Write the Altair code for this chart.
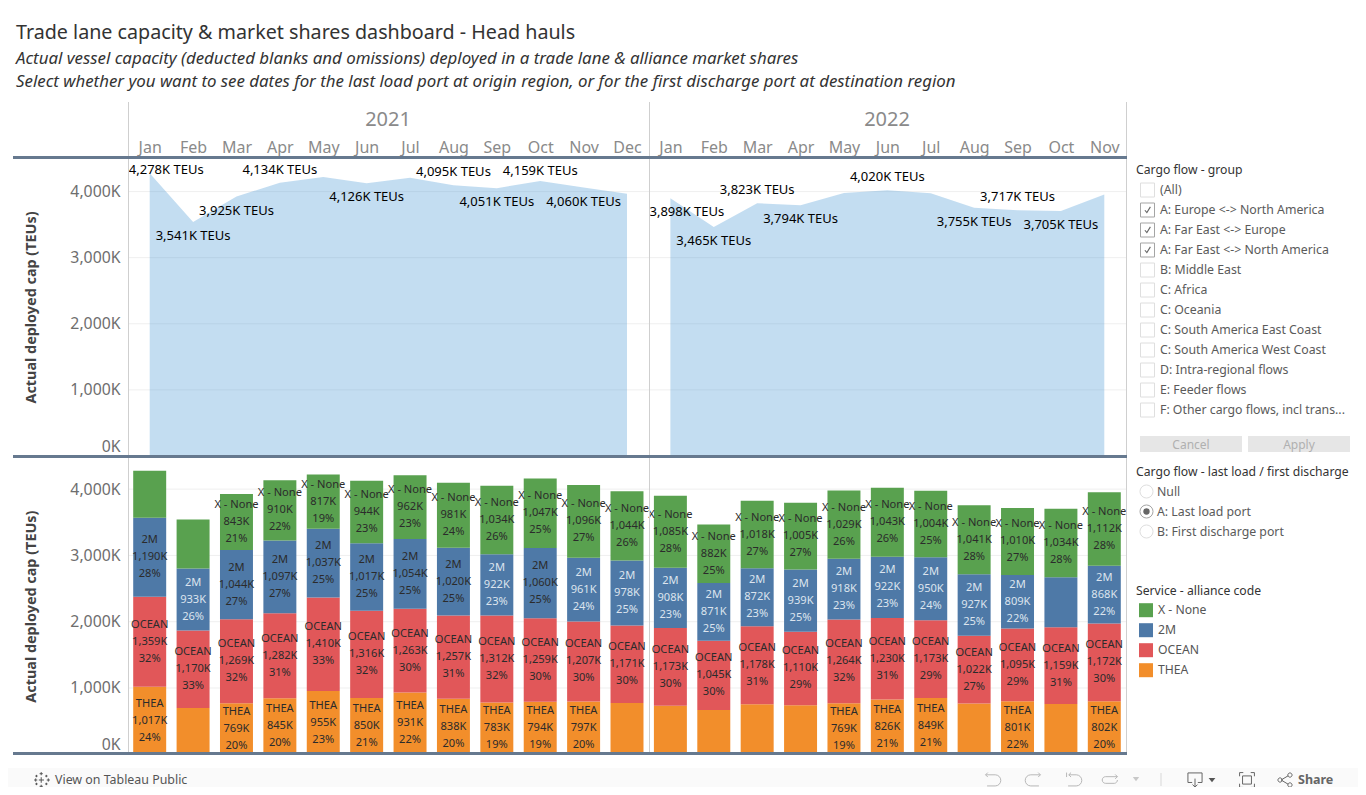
import altair as alt
import pandas as pd

# ---------- data ----------
year_labels = ["2021", "2022"]
months = ["2021-Jan","2021-Feb","2021-Mar","2021-Apr","2021-May","2021-Jun","2021-Jul","2021-Aug","2021-Sep","2021-Oct","2021-Nov","2021-Dec",
          "2022-Jan","2022-Feb","2022-Mar","2022-Apr","2022-May","2022-Jun","2022-Jul","2022-Aug","2022-Sep","2022-Oct","2022-Nov"]
totals = [4278,3541,3925,4134,4219,4126,4210,4095,4051,4159,4060,3966,
          3898,3465,3823,3794,3980,4020,3976,3755,3717,3705,3954]
thea   = [1017,698,769,845,955,850,931,838,783,794,797,773, 732,667,755,740,769,826,849,765,801,759,802]
ocean  = [1359,1170,1269,1282,1410,1316,1263,1257,1312,1259,1207,1171, 1173,1045,1178,1110,1264,1230,1173,1022,1095,1159,1172]
twom   = [1190,933,1044,1097,1037,1017,1054,1020,922,1060,961,978, 908,871,872,939,918,922,950,927,809,753,868]
xnone  = [712,740,843,910,817,944,962,981,1034,1047,1096,1044, 1085,882,1018,1005,1029,1043,1004,1041,1010,1034,1112]
p_thea  = [24,None,20,20,23,21,22,20,19,19,20,None, None,None,None,None,19,21,21,None,22,None,20]
p_ocean = [32,33,32,31,33,32,30,31,32,30,30,30, 30,30,31,29,32,31,29,27,29,31,30]
p_twom  = [28,26,27,27,25,25,25,25,23,25,24,25, 23,25,23,25,23,23,24,25,22,None,22]
p_xnone = [None,None,21,22,19,23,23,24,26,25,27,26, 28,25,27,27,26,26,25,28,27,28,28]

above_months = ["2021-Apr","2021-Aug","2022-Mar","2022-Jun","2022-Sep"]
above_near = ["2021-Oct"]
below_months = ["2021-Feb","2021-Mar","2021-Jun","2021-Sep","2021-Nov","2022-Feb","2022-Apr","2022-Aug","2022-Oct"]
edge_high = ["2021-Jan"]
edge_low = ["2022-Jan"]

series_order = ["X - None", "2M", "OCEAN", "THEA"]
series_colors = ["#59A14F", "#4E79A7", "#E15759", "#F28E2B"]

filter_items = ["(All)","A: Europe <-> North America","A: Far East <-> Europe","A: Far East <-> North America",
                "B: Middle East","C: Africa","C: Oceania","C: South America East Coast","C: South America West Coast",
                "D: Intra-regional flows","E: Feeder flows","F: Other cargo flows, incl trans..."]
filter_on = filter_items[1:4]
radio_items = ["Null","A: Last load port","B: First discharge port"]
radio_on = ["A: Last load port"]
y_ticks = [0,1000,2000,3000,4000]

# ---------- styling ----------
O = 8
FONT = "Noto Sans"
X_RANGE = [128-O, 1126-O]
ONE = alt.Data(values=[{"a":1}])

def txt(s, x, y, size=12, color="#555555", italic=False, align="left", font=FONT, weight="normal"):
    return alt.Chart(ONE).mark_text(text=s, font=font, fontSize=size, color=color, align=align, baseline="middle",
                                    fontStyle="italic" if italic else "normal", fontWeight=weight).encode(
        x=alt.value(x-O), y=alt.value(y-O))

def hrule(x1, x2, y, color, w=1):
    return alt.Chart(ONE).mark_rule(color=color, strokeWidth=w).encode(x=alt.value(x1-O), x2=alt.value(x2-O), y=alt.value(y-O))

def vrule(x, y1, y2, color="#CFCFCF", w=1):
    return alt.Chart(ONE).mark_rule(color=color, strokeWidth=w).encode(x=alt.value(x-O), y=alt.value(y1-O), y2=alt.value(y2-O))

def box(x1, x2, y1, y2, color):
    return alt.Chart(ONE).mark_rect(color=color).encode(x=alt.value(x1-O), x2=alt.value(x2-O), y=alt.value(y1-O), y2=alt.value(y2-O))

def glyph(x, y, shape, size, color="#B8B8B8", filled=False, sw=1.0):
    return alt.Chart(ONE).mark_point(shape=shape, size=size, filled=filled, color=color, strokeWidth=sw, opacity=1).encode(
        x=alt.value(x-O), y=alt.value(y-O))

def y_axis():
    return alt.Axis(values=y_ticks, labelExpr="format(datum.value,',')+'K'", orient="left", offset=-(128-O),
                    domain=False, ticks=False, grid=False, labelPadding=8, labelFontSize=15.8, labelColor="#6E6E6E",
                    labelFont=FONT, labelOffset=alt.expr("datum.value===0?-10:0"),
                    title="Actual deployed cap (TEUs)", titleFont=FONT, titleFontSize=14.4, titleFontWeight="bold",
                    titleColor="#444444", titlePadding=31)

# ---------- top panel ----------
top_df = pd.DataFrame({"m": months, "v": totals, "yr": [s[:4] for s in months]})
top_df["label"] = [f"{v:,}K TEUs" for v in totals]
ys_top = alt.Scale(domain=[0, 4508], range=[456-O, 158-O], nice=False, zero=True)
xs_top = alt.Scale(type="point", domain=months, range=X_RANGE, padding=0.5)
x_top = alt.X("m:N", scale=xs_top, title=None, sort=months,
              axis=alt.Axis(orient="top", offset=-(156-O), domain=False, ticks=False, grid=False, labelAngle=0,
                            labelExpr="split(datum.label,'-')[1]", labelFontSize=16, labelColor="#8A8A8A",
                            labelFont=FONT, labelPadding=1))
x_top_plain = alt.X("m:N", scale=xs_top, title=None, sort=months, axis=None)
y_top = alt.Y("v:Q", scale=ys_top, title=None, axis=None, stack=None)

grid_top = alt.Chart(pd.DataFrame({"v": y_ticks})).mark_rule(color="#EFEFEF").encode(
    y=alt.Y("v:Q", scale=ys_top, axis=y_axis()), x=alt.value(X_RANGE[0]), x2=alt.value(X_RANGE[1]))

def area_year(yr, x_enc):
    return alt.Chart(top_df[top_df.yr == yr]).mark_area(color="#4A97D3", opacity=0.33, interpolate="linear").encode(
        x=x_enc, y=y_top)

def tlabels(keys, dx, dy):
    return alt.Chart(top_df[top_df.m.isin(keys)]).mark_text(font=FONT, fontSize=13, color="#000000", dx=dx, dy=dy).encode(
        x=x_top_plain, y=y_top, text="label:N")

top_panel = alt.layer(grid_top, area_year("2021", x_top), area_year("2022", x_top_plain),
                      tlabels(above_months,0,-13), tlabels(above_near,0,-10.5), tlabels(below_months,0,14),
                      tlabels(edge_high,16.5,-3), tlabels(edge_low,16.5,14)).resolve_axis(x="independent", y="independent")

# ---------- bottom panel ----------
rows = []
stacks = [("THEA", thea, p_thea), ("OCEAN", ocean, p_ocean), ("2M", twom, p_twom), ("X - None", xnone, p_xnone)]
for i, m in enumerate(months):
    base = 0
    for name, vals, pcts in stacks:
        v, p = vals[i], pcts[i]
        rows.append({"m": m, "series": name, "y0": base, "y1": base+v, "mid": base+v/2, "value": v,
                     "text": f"{name}\n{v:,}K\n{p}%" if p is not None else "",
                     "light": name == "2M" and v < 1000})
        base += v
bot_df = pd.DataFrame(rows)
ys_bot = alt.Scale(domain=[0, 4469], range=[754.3-O, 458-O], nice=False, zero=True)
xs_bot = alt.Scale(type="band", domain=months, range=X_RANGE, paddingInner=0.24, paddingOuter=0.12)
x_bot = alt.X("m:N", scale=xs_bot, title=None, sort=months, axis=None)

grid_bot = alt.Chart(pd.DataFrame({"v": y_ticks})).mark_rule(color="#EFEFEF").encode(
    y=alt.Y("v:Q", scale=ys_bot, axis=y_axis()), x=alt.value(X_RANGE[0]), x2=alt.value(X_RANGE[1]))
bars = alt.Chart(bot_df).mark_bar().encode(
    x=x_bot,
    y=alt.Y("y0:Q", scale=ys_bot, title=None, axis=None), y2="y1:Q",
    color=alt.Color("series:N", scale=alt.Scale(domain=series_order, range=series_colors),
                    legend=alt.Legend(orient="none", legendX=1136-O, legendY=585-O, title="Service - alliance code",
                                      titleFont=FONT, titleFontSize=12.2, titleFontWeight="normal", titleColor="#333333",
                                      labelFont=FONT, labelFontSize=12.2, labelColor="#555555", symbolType="square",
                                      symbolSize=196, symbolStrokeWidth=0, symbolOffset=3, rowPadding=6, titlePadding=6,
                                      padding=0, labelOffset=5)))
bar_text = alt.Chart(bot_df[bot_df.text != ""]).mark_text(font=FONT, fontSize=11.1, lineBreak="\n", lineHeight=17, dy=-17).encode(
    x=x_bot, y=alt.Y("mid:Q", scale=ys_bot, title=None, axis=None), text="text:N",
    color=alt.condition(alt.datum.light, alt.value("#DCE4EE"), alt.value("#2B2B2B")))
bot_panel = alt.layer(grid_bot, bars, bar_text).resolve_axis(x="independent", y="independent")

# ---------- filter panel ----------
ys_f = alt.Scale(type="point", domain=filter_items, range=[190-O, 410-O], padding=0)
f_df = pd.DataFrame({"item": filter_items, "on": [i in filter_on for i in filter_items]})
y_f = alt.Y("item:N", scale=ys_f, axis=None, sort=filter_items)
f_boxes = alt.Chart(f_df).mark_point(shape="square", size=196, filled=False, strokeWidth=1).encode(
    x=alt.value(1147.5-O), y=y_f, color=alt.condition(alt.datum.on, alt.value("#808080"), alt.value("#D2D2D2")))
f_checks = alt.Chart(f_df[f_df.on]).mark_point(shape="M-0.5,0.05 L-0.12,0.5 L0.55,-0.6", size=110, filled=False,
                                               strokeWidth=1.1, color="#666666", opacity=1).encode(
    x=alt.value(1147.5-O), y=y_f)
f_text = alt.Chart(f_df).mark_text(font=FONT, fontSize=12.3, color="#5A5A5A", align="left").encode(
    x=alt.value(1160-O), y=y_f, text="item:N")
filter_panel = alt.layer(f_boxes, f_checks, f_text)

ys_r = alt.Scale(type="point", domain=radio_items, range=[491.5-O, 531.5-O], padding=0)
r_df = pd.DataFrame({"item": radio_items, "on": [i in radio_on for i in radio_items]})
y_r = alt.Y("item:N", scale=ys_r, axis=None, sort=radio_items)
r_circ = alt.Chart(r_df).mark_point(shape="circle", size=170, filled=False, strokeWidth=1).encode(
    x=alt.value(1146.5-O), y=y_r, color=alt.condition(alt.datum.on, alt.value("#808080"), alt.value("#D2D2D2")))
r_dot = alt.Chart(r_df[r_df.on]).mark_point(shape="circle", size=40, filled=True, color="#666666", opacity=1).encode(
    x=alt.value(1146.5-O), y=y_r)
r_text = alt.Chart(r_df).mark_text(font=FONT, fontSize=12.3, color="#5A5A5A", align="left").encode(
    x=alt.value(1157-O), y=y_r, text="item:N")
radio_panel = alt.layer(r_circ, r_dot, r_text)

# ---------- furniture ----------
RULE = "#66798F"
FY = 780
furniture = [
    box(0, 1366, 768, 795, "#FAFAFA"),
    txt("Trade lane capacity & market shares dashboard - Head hauls", 16, 33, 19.7, "#333333"),
    txt("Actual vessel capacity (deducted blanks and omissions) deployed in a trade lane & alliance market shares", 16, 59, 16.85, "#333333", italic=True),
    txt("Select whether you want to see dates for the last load port at origin region, or for the first discharge port at destination region", 16, 82, 16.85, "#333333", italic=True),
    txt(year_labels[0], 388, 120, 20, "#8A8A8A", align="center"),
    txt(year_labels[1], 887, 120, 20, "#8A8A8A", align="center"),
    txt("Cargo flow - group", 1136, 170, 12.2, "#333333"),
    txt("Cargo flow - last load / first discharge", 1136, 472, 12.2, "#333333"),
    box(1140, 1242, 436, 452, "#E6E6E6"),
    box(1248, 1350, 436, 452, "#E6E6E6"),
    txt("Cancel", 1191, 445, 12, "#B0B0B0", align="center"),
    txt("Apply", 1299, 445, 12, "#B0B0B0", align="center"),
    txt("View on Tableau Public", 55, FY, 12.4, "#555555"),
    txt("Share", 1298, FY, 12.5, "#666666", weight="bold"),
    glyph(42, FY, "M-0.1,-1 V-0.6 M-0.3,-0.8 H0.1 M-0.1,1 V0.6 M-0.3,0.8 H0.1 M-1,0 H-0.6 M-0.8,-0.2 V0.2 M1,0 H0.6 M0.8,-0.2 V0.2 M-0.1,-0.35 V0.35 M-0.4,0 H0.25 M-0.7,-0.65 V-0.35 M-0.85,-0.5 H-0.55 M0.55,-0.65 V-0.35 M0.4,-0.5 H0.7 M-0.7,0.65 V0.35 M-0.85,0.5 H-0.55 M0.55,0.65 V0.35 M0.4,0.5 H0.7", 250, "#555555"),
    glyph(993, FY, "M-1,-0.7 H0.3 A0.7,0.7 0 0 1 0.3,0.8 H-0.8 M-0.7,-1 L-1,-0.7 L-0.7,-0.4", 220),
    glyph(1033, FY, "M1,-0.7 H-0.3 A0.7,0.7 0 0 0 -0.3,0.8 H0.8 M0.7,-1 L1,-0.7 L0.7,-0.4", 220),
    glyph(1074, FY, "M-0.7,-0.7 H0.3 A0.7,0.7 0 0 1 0.3,0.8 H-0.8 M-1,-1 V-0.4 M-0.4,-1 L-0.7,-0.7 L-0.4,-0.4", 220),
    glyph(1110, FY, "M1,-0.45 H-0.6 A0.45,0.45 0 0 0 -0.6,0.45 H0.6 A0.45,0.45 0 0 0 1,0 M0.7,-0.75 L1,-0.45 L0.7,-0.15", 220),
    glyph(1136, FY-1, "M-1,-0.6 H1 L0,0.7 Z", 40, "#C8C8C8", filled=True),
    vrule(1161, 773, 786, "#D8D8D8"),
    glyph(1195, FY, "M-0.4,0.35 H-1 V-1 H1 V0.35 H0.4 M0,-0.2 V1 M-0.35,0.65 L0,1 L0.35,0.65", 200, "#666666"),
    glyph(1212, FY, "M-1,-0.6 H1 L0,0.7 Z", 45, "#555555", filled=True),
    glyph(1247, FY, "M-0.6,-0.55 H0.6 V0.55 H-0.6 Z M-1,-0.5 V-1 H-0.5 M0.5,-1 H1 V-0.5 M1,0.5 V1 H0.5 M-0.5,1 H-1 V0.5", 220, "#666666"),
    glyph(1285, FY, "M-0.55,0 L0.45,-0.6 M-0.55,0 L0.45,0.6 M-0.4,0 A0.3,0.3 0 1 1 -1,0 A0.3,0.3 0 1 1 -0.4,0 M1,-0.7 A0.3,0.3 0 1 1 0.4,-0.7 A0.3,0.3 0 1 1 1,-0.7 M1,0.7 A0.3,0.3 0 1 1 0.4,0.7 A0.3,0.3 0 1 1 1,0.7", 200, "#666666"),
]
dividers = [
    vrule(128.5, 102, 755), vrule(649.5, 102, 755), vrule(1126.5, 102, 755),
    hrule(13, 1127, 157.5, RULE, 3), hrule(13, 1127, 456.5, RULE, 3), hrule(13, 1127, 753.5, RULE, 3),
]

chart = alt.layer(*furniture, top_panel, bot_panel, *dividers, filter_panel, radio_panel).resolve_scale(
    x="independent", y="independent", color="independent"
).properties(width=1350, height=779, autosize=alt.AutoSizeParams(type="none"), padding=0
).configure_view(stroke=None).configure_axis(labelOverlap=False, labelBound=False)

chart.save("out.html", embed_options={"renderer": "svg", "actions": False})
